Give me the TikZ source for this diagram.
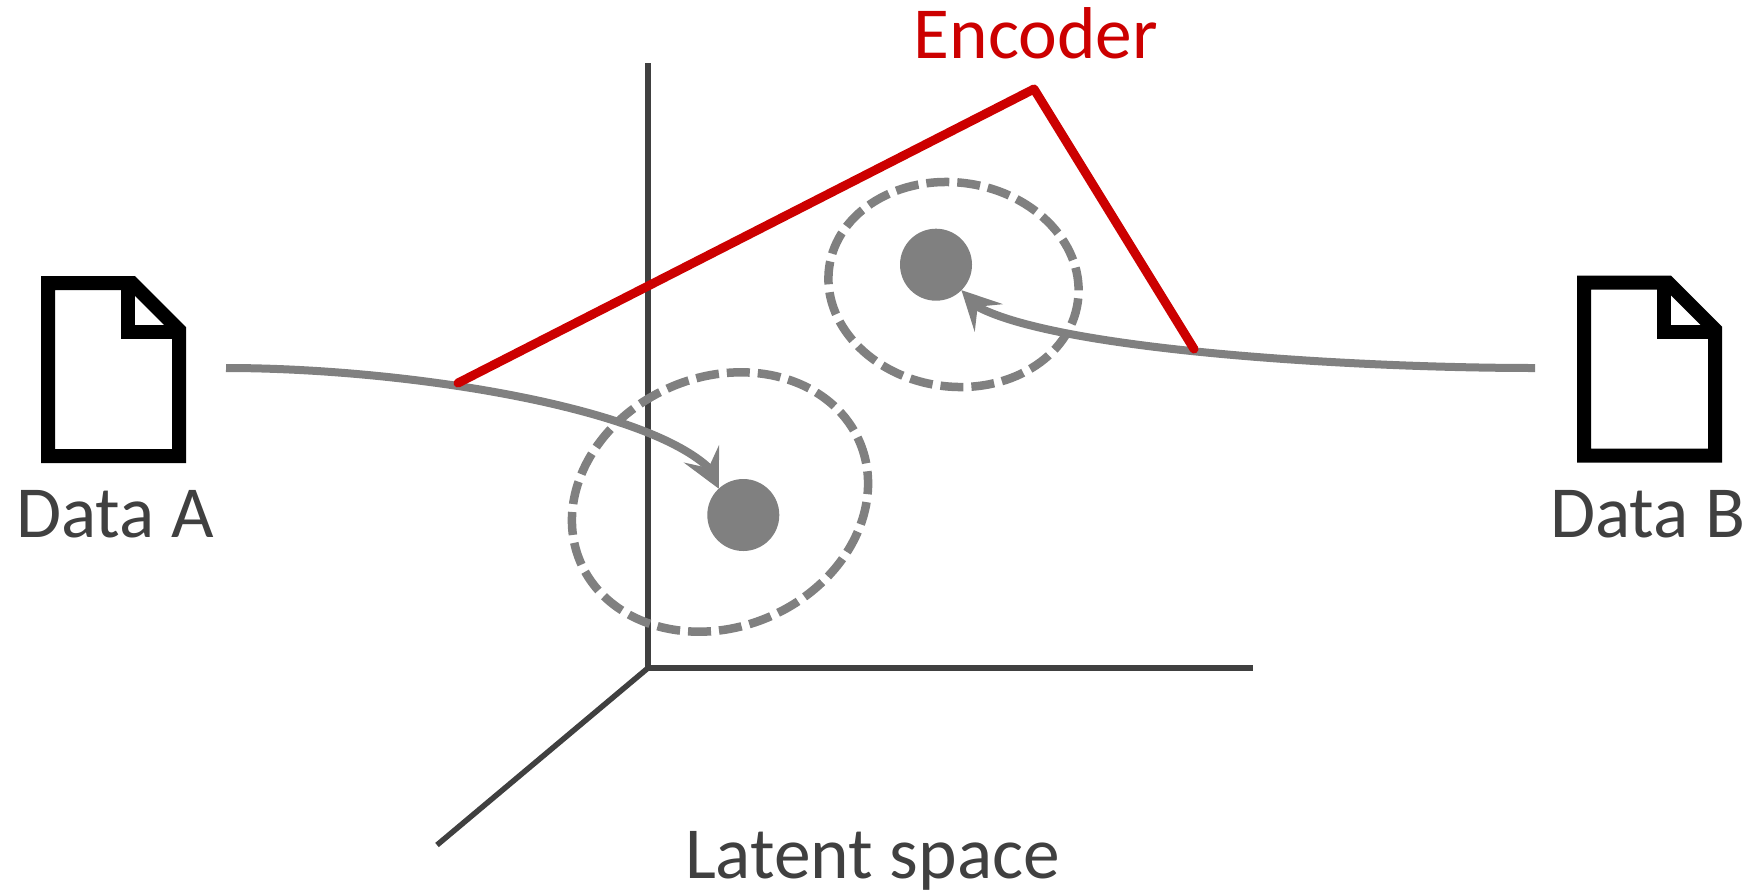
\documentclass[tikz,border=0pt]{standalone}
\usepackage{fontspec}
\setmainfont{Carlito}
\usetikzlibrary{arrows.meta}
\definecolor{ink}{HTML}{404040}
\definecolor{midgrey}{HTML}{808080}
\definecolor{encred}{HTML}{CC0000}
\tikzset{
  axisline/.style={draw=ink,line width=5.5pt},
  encline/.style={draw=encred,line width=9pt,line join=round,line cap=round},
  dotnode/.style={circle,fill=midgrey,minimum size=72pt,inner sep=0pt,outer sep=0pt},
  halo/.style={draw=midgrey,line width=8.5pt,dash pattern=on 23pt off 8pt},
  flow/.style={draw=midgrey,line width=8pt,-{Stealth[length=38.7pt,width=39pt,inset=15.6pt,fill=midgrey]}},
  docline/.style={draw=black,line width=14pt,miter limit=10,fill=white},
  label/.style={font=\fontsize{73.4pt}{73.4pt}\selectfont,text=ink,inner sep=0pt,anchor=base},
}
\begin{document}
\begin{tikzpicture}[x=1pt,y=-1pt]
\useasboundingbox[fill=white] (0,0) rectangle (1753,895);
% axes
\coordinate (origin) at (648,668);
\coordinate (axisZ) at (648,63);
\coordinate (axisX) at (1253,668);
\coordinate (axisY) at (437,845);
\draw[axisline] (axisZ) -- (origin) -- (axisX);
\draw[axisline] (origin) -- (axisY);
% halos
\draw[halo,rotate around={23.5:(720,502)}] (720,502) ellipse [x radius=152,y radius=125];
\draw[halo,rotate around={-8:(953.5,284.5)}] (953.5,284.5) ellipse [x radius=125.5,y radius=102];
% dots
\node[dotnode] (dotA) at (743.3,515) {};
\node[dotnode] (dotB) at (936,264.7) {};
% flows
\coordinate (startA) at (226,368);
\coordinate (notchA) at (708,467);
\coordinate (startB) at (1535,368);
\coordinate (notchB) at (978,307);
\draw[flow] (startA) .. controls (400,368) and (640,405) .. (notchA) -- (dotA.133);
\draw[flow] (startB) .. controls (1350,368) and (1060,350) .. (notchB) -- (dotB.315);
% encoder
\coordinate (encL) at (458,383);
\coordinate (encT) at (1034,89);
\coordinate (encR) at (1194,349);
\draw[encline] (encL) -- (encT) -- (encR);
% documents
\draw[docline] (48,283) -- (132,283) -- (179,330) -- (179,456) -- (48,456) -- cycle;
\draw[draw=black,line width=14pt] (128,283) -- (128,332) -- (179,332);
\begin{scope}[shift={(1536,-0.5)}]
\draw[docline] (48,283) -- (132,283) -- (179,330) -- (179,456) -- (48,456) -- cycle;
\draw[draw=black,line width=14pt] (128,283) -- (128,332) -- (179,332);
\end{scope}
% labels
\node[label] (dataA) at (115,537) {Data A};
\node[label] (dataB) at (1647.5,537) {Data B};
\node[label,text=encred] (encoder) at (1036,58) {Encoder};
\node[label] (latent) at (872.5,878) {Latent space};
\end{tikzpicture}
\end{document}
